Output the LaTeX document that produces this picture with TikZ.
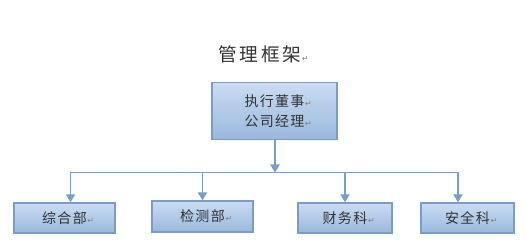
\documentclass[tikz,border=0pt]{standalone}
\usepackage{fontspec}
\newfontfamily\cjk{Noto Sans CJK SC}
\newfontfamily\sym{DejaVu Sans}
\usetikzlibrary{arrows.meta}
\definecolor{edge}{HTML}{7A9CC8}
\definecolor{topc}{HTML}{CADCF2}
\definecolor{botc}{HTML}{99B8DD}
\definecolor{txt}{HTML}{333333}
\newcommand{\parmk}{\rlap{\kern0.5pt\textcolor{gray}{\sym\fontsize{6}{6}\selectfont ↵}}}
\tikzset{
  orgbox/.style={draw=edge, line width=1.1pt, top color=topc, bottom color=botc,
    inner sep=0pt, text=txt, font=\cjk\fontsize{10.5}{15}\selectfont, align=center},
  conn/.style={draw=edge, line width=1.1pt},
  arr/.style={conn, -{Triangle[length=6pt,width=7pt]}}
}
\begin{document}
\begin{tikzpicture}[x=0.75pt,y=-0.75pt]
\useasboundingbox (0,0) rectangle (526,245);
\node[text=txt, font=\cjk\fontsize{14}{14}\selectfont] (title) at (260,54)
  {管\hspace{2pt}理\hspace{2pt}框\hspace{2pt}架\parmk};
\node[orgbox, minimum width=125*0.75pt, minimum height=57*0.75pt] (ceo) at (274.5,111)
  {执\hspace{1pt}行\hspace{1pt}董\hspace{1pt}事\parmk\\公\hspace{1pt}司\hspace{1pt}经\hspace{1pt}理\parmk};
\node[orgbox, minimum width=101*0.75pt, minimum height=30*0.75pt] (a) at (64.5,218) {综\hspace{1pt}合\hspace{1pt}部\parmk};
\node[orgbox, minimum width=101*0.75pt, minimum height=31*0.75pt] (b) at (202.5,216.5) {检\hspace{1pt}测\hspace{1pt}部\parmk};
\node[orgbox, minimum width=94*0.75pt, minimum height=30*0.75pt] (c) at (345,218) {财\hspace{1pt}务\hspace{1pt}科\parmk};
\node[orgbox, minimum width=93*0.75pt, minimum height=30*0.75pt] (d) at (467.5,218) {安\hspace{1pt}全\hspace{1pt}科\parmk};
\coordinate (hl) at (70.5,172.5);
\coordinate (hr) at (458,172.5);
\coordinate (hm) at (275,172.5);
\draw[conn] (hl) -- (hr);
\draw[arr] (ceo.south -| hm) -- (hm);
\draw[arr] (hl) -- (hl |- a.north);
\draw[arr] (b.north |- hl) -- (b.north);
\draw[arr] (c.north |- hl) -- (c.north);
\draw[arr] (hr) -- (hr |- d.north);
\end{tikzpicture}
\end{document}
